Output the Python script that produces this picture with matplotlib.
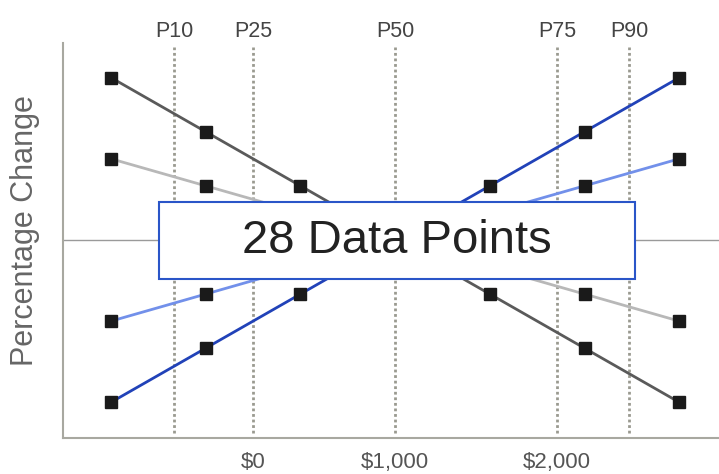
import matplotlib
matplotlib.use("Agg")
import matplotlib.pyplot as plt
from matplotlib.patches import Rectangle

plt.rcParams['font.family'] = ['Liberation Sans', 'DejaVu Sans']

# ---- data ----
x_points = [0, 1, 2, 3, 4, 5, 6]
dark_gray = [3, 2, 1, 0, -1, -2, -3]
light_gray = [1.5, 1.0, 0.5, 0, -0.5, -1.0, -1.5]
dark_blue = [-3, -2, -1, 0, 1, 2, 3]
light_blue = [-1.5, -1.0, -0.5, 0, 0.5, 1.0, 1.5]

percentile_labels = ['P10', 'P25', 'P50', 'P75', 'P90']
percentile_pos = [0.665, 1.5, 3.0, 4.71, 5.47]

tick_labels = ['$0', '$1,000', '$2,000']
tick_pos = [1.5, 3.0, 4.71]

box_text = '28 Data Points'

# ---- figure ----
W, H = 719, 474
fig = plt.figure(figsize=(W / 100, H / 100), dpi=100)
ax_l, ax_r, ax_t, ax_b = 63, 719, 43, 438
ax = fig.add_axes([ax_l / W, 1 - ax_b / H, (ax_r - ax_l) / W, (ax_b - ax_t) / H])

ax.set_xlim(-0.507, 6.42)
ax.set_ylim(-3.66, 3.64)

# zero line
ax.axhline(0, color='#9a9a9a', lw=1.0, zorder=1)

# percentile lines
for p in percentile_pos:
    ax.axvline(p, ymin=0.012, ymax=0.99, color='#9a9a90', lw=2.0,
               linestyle=(0, (1, 1)), zorder=2)
for lab, p in zip(percentile_labels, percentile_pos):
    ax.annotate(lab, xy=(p, 1), xycoords=('data', 'axes fraction'),
                xytext=(0, 8.5), textcoords='offset points',
                ha='center', va='center', fontsize=15.5, color='#444444')

series = [
    (dark_gray, '#5a5a5a'),
    (light_gray, '#b8b8b8'),
    (dark_blue, '#2142b8'),
    (light_blue, '#7290ea'),
]
for vals, col in series:
    ax.plot(x_points, vals, color=col, lw=2.0, zorder=3,
            marker='s', markersize=8, markerfacecolor='#1a1a1a',
            markeredgecolor='#1a1a1a')

# spines
for s in ['top', 'right']:
    ax.spines[s].set_visible(False)
for s in ['left', 'bottom']:
    ax.spines[s].set_color('#a8a8a0')
    ax.spines[s].set_linewidth(1.5)

ax.set_yticks([])
ax.set_xticks(tick_pos)
ax.set_xticklabels(tick_labels, fontsize=16, color='#555555')
ax.tick_params(axis='x', length=0, pad=10)

fig.text(25 / W, 1 - 231 / H, 'Percentage Change', rotation=90,
         ha='center', va='center', fontsize=22, color='#666666')

# overlay box
bx_l, bx_r, bx_t, bx_b = 159, 635, 202, 279
fig.patches.append(Rectangle((bx_l / W, 1 - bx_b / H), (bx_r - bx_l) / W,
                             (bx_b - bx_t) / H, transform=fig.transFigure,
                             facecolor='white', edgecolor='#2a55c8',
                             linewidth=1.5, zorder=10))
fig.text(397 / W, 1 - 241 / H, box_text, ha='center', va='center',
         fontsize=34, color='#222222', zorder=11)

fig.savefig('out.png', dpi=100)
